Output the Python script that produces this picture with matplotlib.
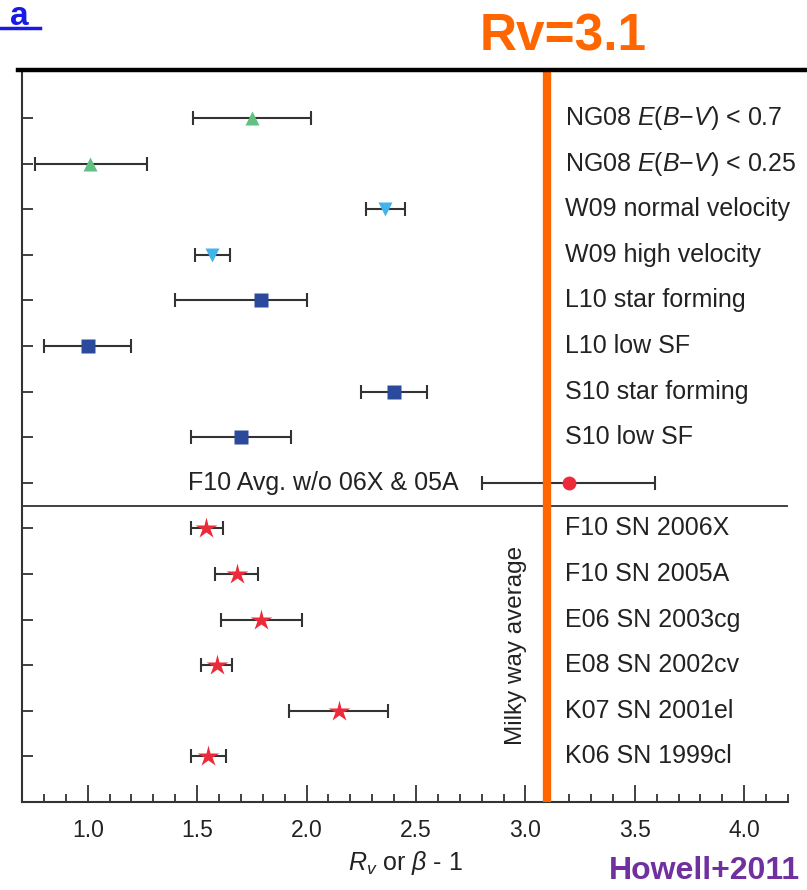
import matplotlib
matplotlib.use("Agg")
import matplotlib.pyplot as plt
from matplotlib.lines import Line2D
from matplotlib.ticker import MultipleLocator

plt.rcParams['font.family'] = ['Liberation Sans', 'DejaVu Sans']
plt.rcParams['mathtext.fontset'] = 'custom'
plt.rcParams['mathtext.rm'] = 'Liberation Sans'
plt.rcParams['mathtext.it'] = 'Liberation Sans:italic'

##### DATA #####

labels = [
    r"NG08 $E$($B$$-$$V$) < 0.7",
    r"NG08 $E$($B$$-$$V$) < 0.25",
    "W09 normal velocity",
    "W09 high velocity",
    "L10 star forming",
    "L10 low SF",
    "S10 star forming",
    "S10 low SF",
    "",
    "F10 SN 2006X",
    "F10 SN 2005A",
    "E06 SN 2003cg",
    "E08 SN 2002cv",
    "K07 SN 2001el",
    "K06 SN 1999cl",
]
rv = [1.75, 1.01, 2.36, 1.57, 1.79, 1.00, 2.40, 1.70, 3.20,
      1.54, 1.68, 1.79, 1.59, 2.15, 1.55]
err_lo = [0.27, 0.25, 0.09, 0.08, 0.39, 0.20, 0.15, 0.23, 0.40,
          0.07, 0.10, 0.18, 0.07, 0.23, 0.08]
err_hi = [0.27, 0.26, 0.09, 0.08, 0.21, 0.20, 0.15, 0.23, 0.39,
          0.08, 0.10, 0.19, 0.07, 0.22, 0.08]
markers = ['^', '^', 'v', 'v', 's', 's', 's', 's', 'o',
           '*', '*', '*', '*', '*', '*']
colors = ['#62c083', '#62c083', '#43b3ec', '#43b3ec', '#2c4a9c', '#2c4a9c',
          '#2c4a9c', '#2c4a9c', '#ec2a3a', '#ec2a3a', '#ec2a3a', '#ec2a3a',
          '#ec2a3a', '#ec2a3a', '#ec2a3a']
sizes = [10, 10, 10, 10, 10, 10, 10, 10, 10, 16, 16, 16, 16, 16, 16]
avg_label = "F10 Avg. w/o 06X & 05A"
milky_way_rv = 3.1

##### PLOT #####

fig = plt.figure(figsize=(8.07, 8.90), dpi=100)
ax = fig.add_axes([0.0273, 0.0989, 0.9492, 0.8224])

n = len(labels)
ink = '#333333'
for i in range(n):
    y = n - 1 - i
    ax.errorbar(rv[i], y, xerr=[[err_lo[i]], [err_hi[i]]], fmt='none',
                ecolor=ink, elinewidth=1.5, capsize=5, capthick=1.5, zorder=2)
    ax.plot(rv[i], y, marker=markers[i], color=colors[i], ms=sizes[i],
            mec='none', ls='none', zorder=3)
    if labels[i]:
        ax.text(3.18, y, labels[i], fontsize=18, color='#222222',
                va='center', ha='left')

ax.text(1.46, n - 1 - 8, avg_label, fontsize=18, color='#222222',
        va='center', ha='left')

ax.axhline(5.5, color=ink, lw=1.3, zorder=1)
ax.axvline(milky_way_rv, color='#ff6600', lw=6, zorder=4)
ax.text(2.955, 2.43, "Milky way average", rotation=90, fontsize=17.5,
        color='#222222', va='center', ha='center')

ax.set_xlim(0.7, 4.2)
ax.set_ylim(-1.0, 15.05)
ax.xaxis.set_major_locator(MultipleLocator(0.5))
ax.xaxis.set_minor_locator(MultipleLocator(0.1))
ax.set_yticks(range(n))
ax.set_yticklabels([])
ax.tick_params(axis='x', which='major', direction='in', length=12, width=1.3,
               color=ink, labelsize=16.5, labelcolor='#222222', pad=12)
ax.tick_params(axis='x', which='minor', direction='in', length=6, width=1.3,
               color=ink)
ax.tick_params(axis='y', direction='in', length=8, width=1.3, color=ink)
ax.set_xticks([1.0, 1.5, 2.0, 2.5, 3.0, 3.5, 4.0])
ax.set_xticklabels(['1.0', '1.5', '2.0', '2.5', '3.0', '3.5', '4.0'])
ax.set_xlabel(r"$R_v$ or $\beta$ - 1", fontsize=18, color='#222222', labelpad=5)

for side in ['top', 'right']:
    ax.spines[side].set_visible(False)
for side in ['left', 'bottom']:
    ax.spines[side].set_color(ink)
    ax.spines[side].set_linewidth(1.5)

# thick rule along the top, annotation texts
fig.add_artist(Line2D([0.022, 1.0], [0.9213, 0.9213], color='black', lw=3.2,
                      transform=fig.transFigure))
fig.text(0.698, 0.943, "Rv=3.1", fontsize=37, fontweight='bold',
         color='#ff6600', ha='center', va='baseline')
fig.text(0.991, 0.004, "Howell+2011", fontsize=23, fontweight='bold',
         color='#7030a0', ha='right', va='bottom')
fig.text(0.012, 0.999, "a", fontsize=24, fontweight='bold',
         color='#1a1ae6', ha='left', va='top')
fig.add_artist(Line2D([0.0, 0.049], [0.969, 0.969], color='#1a1ae6', lw=2.5,
                      transform=fig.transFigure))

fig.savefig("out.png", dpi=100)
